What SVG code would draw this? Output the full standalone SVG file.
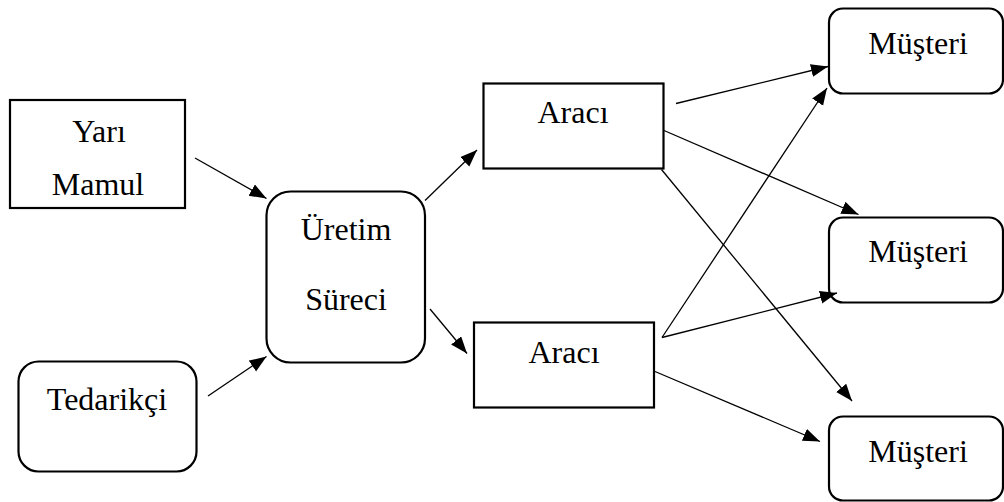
<svg xmlns="http://www.w3.org/2000/svg" width="1004" height="502" viewBox="0 0 1004 502">
  <style>
    .box { fill: #ffffff; stroke: #000000; stroke-width: 2.2; }
    .lbl { font-family: "Liberation Serif", "Times New Roman", serif; font-size: 32px; fill: #000000; text-anchor: middle; }
    .edge { stroke: #000000; stroke-width: 1.3; fill: none; marker-end: url(#arrow); }
  </style>
  <defs>
    <marker id="arrow" markerUnits="userSpaceOnUse" markerWidth="18" markerHeight="14" refX="17" refY="6.5" orient="auto">
      <path d="M0,0 L17,6.5 L0,13 Z" fill="#000000"/>
    </marker>
  </defs>
  <rect width="1004" height="502" fill="#ffffff"/>

  <g id="yari-mamul">
    <rect class="box" x="10" y="100" width="175" height="108"/>
    <text class="lbl" x="99" y="142">Yarı</text>
    <text class="lbl" x="98" y="195">Mamul</text>
  </g>

  <g id="tedarikci">
    <rect class="box" x="18.5" y="361.5" width="178" height="110" rx="20" ry="20"/>
    <text class="lbl" x="107" y="410">Tedarikçi</text>
  </g>

  <g id="uretim-sureci">
    <rect class="box" x="266.5" y="191.5" width="158.5" height="171" rx="24" ry="24"/>
    <text class="lbl" x="346" y="240">Üretim</text>
    <text class="lbl" x="346" y="310">Süreci</text>
  </g>

  <g id="araci-ust">
    <rect class="box" x="483.5" y="83.5" width="180" height="85"/>
    <text class="lbl" x="573" y="123">Aracı</text>
  </g>

  <g id="araci-alt">
    <rect class="box" x="474" y="322.5" width="180" height="85"/>
    <text class="lbl" x="564" y="363">Aracı</text>
  </g>

  <g id="musteri-1">
    <rect class="box" x="829" y="8.5" width="174" height="85" rx="14" ry="14"/>
    <text class="lbl" x="918" y="54">Müşteri</text>
  </g>

  <g id="musteri-2">
    <rect class="box" x="829" y="217.5" width="174" height="85" rx="14" ry="14"/>
    <text class="lbl" x="918" y="262">Müşteri</text>
  </g>

  <g id="musteri-3">
    <rect class="box" x="829" y="416.5" width="174" height="84" rx="14" ry="14"/>
    <text class="lbl" x="918" y="462">Müşteri</text>
  </g>

  <g id="connectors">
    <line class="edge" x1="195" y1="158" x2="266.5" y2="198.5"/>
    <line class="edge" x1="208" y1="396" x2="266.5" y2="356.5"/>
    <line class="edge" x1="425" y1="200.5" x2="477" y2="150"/>
    <line class="edge" x1="430" y1="309" x2="467" y2="353.5"/>
    <line class="edge" x1="676" y1="103.5" x2="828" y2="66.5"/>
    <line class="edge" x1="664" y1="130.5" x2="858.5" y2="214.5"/>
    <line class="edge" x1="661.5" y1="169.5" x2="852" y2="401"/>
    <line class="edge" x1="662" y1="337.5" x2="827" y2="88"/>
    <line class="edge" x1="662" y1="337.5" x2="837" y2="293"/>
    <line class="edge" x1="655" y1="371.5" x2="820" y2="441.5"/>
  </g>
</svg>
